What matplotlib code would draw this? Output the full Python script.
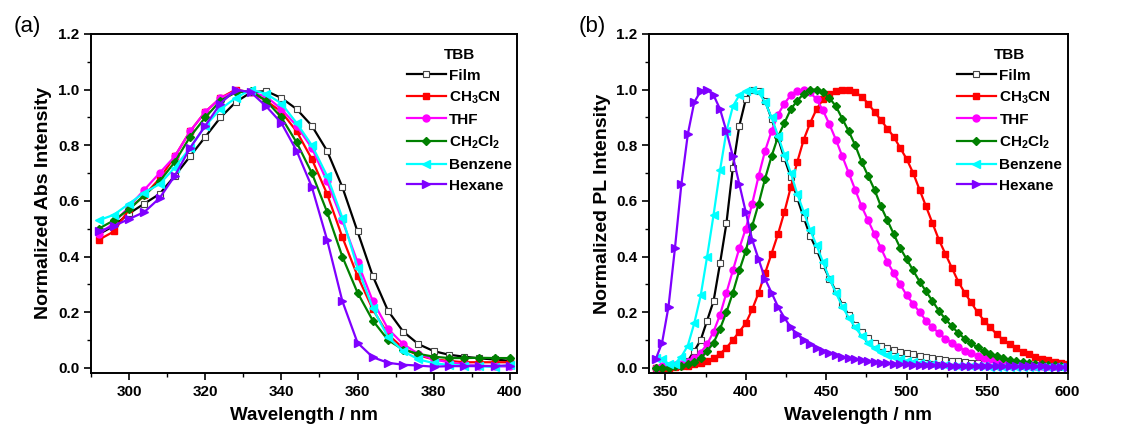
import numpy as np
import matplotlib
matplotlib.use('Agg')
import matplotlib.pyplot as plt
from matplotlib.ticker import MultipleLocator

plt.rcParams['font.family'] = ['Liberation Sans', 'DejaVu Sans']
plt.rcParams['font.weight'] = 'bold'
plt.rcParams['mathtext.fontset'] = 'custom'
plt.rcParams['mathtext.bf'] = 'Liberation Sans:bold'
plt.rcParams['mathtext.rm'] = 'Liberation Sans:bold'
plt.rcParams['mathtext.default'] = 'bf'

names = ['Film', 'CH$_3$CN', 'THF', 'CH$_2$Cl$_2$', 'Benzene', 'Hexane']

# ---- (a) absorption, 292..400 nm every 4 nm
wl_abs = np.arange(292, 401, 4)
abs_film = [0.48, 0.51, 0.555, 0.59, 0.625, 0.69, 0.76, 0.83, 0.90, 0.955, 0.99, 0.995, 0.97, 0.93,
            0.87, 0.78, 0.65, 0.49, 0.33, 0.205, 0.13, 0.085, 0.06, 0.047, 0.04, 0.034, 0.03, 0.025]
abs_ch3cn = [0.46, 0.49, 0.57, 0.62, 0.68, 0.76, 0.85, 0.92, 0.97, 1.0, 0.99, 0.96, 0.92, 0.85,
             0.75, 0.625, 0.47, 0.33, 0.21, 0.12, 0.07, 0.045, 0.03, 0.025, 0.02, 0.02, 0.02, 0.02]
abs_thf = [0.48, 0.52, 0.58, 0.64, 0.70, 0.76, 0.85, 0.92, 0.97, 0.995, 0.99, 0.975, 0.93, 0.87,
           0.79, 0.67, 0.53, 0.38, 0.24, 0.14, 0.085, 0.05, 0.03, 0.02, 0.012, 0.008, 0.005, 0.005]
abs_ch2cl2 = [0.50, 0.53, 0.57, 0.62, 0.67, 0.74, 0.83, 0.90, 0.96, 0.99, 0.995, 0.96, 0.90, 0.81,
              0.70, 0.56, 0.40, 0.27, 0.17, 0.10, 0.065, 0.05, 0.04, 0.035, 0.035, 0.036, 0.035, 0.035]
abs_benzene = [0.53, 0.55, 0.59, 0.63, 0.66, 0.72, 0.79, 0.87, 0.93, 0.97, 1.0, 0.985, 0.95, 0.88,
               0.80, 0.69, 0.54, 0.36, 0.215, 0.11, 0.06, 0.03, 0.017, 0.01, 0.008, 0.006, 0.003, 0.01]
abs_hexane = [0.49, 0.51, 0.535, 0.56, 0.61, 0.69, 0.79, 0.87, 0.95, 1.0, 0.99, 0.94, 0.88, 0.78,
              0.65, 0.46, 0.24, 0.09, 0.038, 0.018, 0.011, 0.008, 0.004, 0.006, 0.006, 0.006, 0.007, 0.008]

# ---- (b) photoluminescence, 344..600 nm every 4 nm
wl_pl = np.arange(344, 601, 4)
pl_film = [0.0, 0.0, 0.0, 0.005, 0.01, 0.025, 0.06, 0.10, 0.17, 0.24, 0.375, 0.52, 0.72, 0.87,
           0.965, 1.0, 0.995, 0.96, 0.895, 0.827, 0.753, 0.685, 0.61, 0.54, 0.475, 0.425, 0.37,
           0.32, 0.275, 0.225, 0.19, 0.155, 0.128, 0.107, 0.09, 0.078, 0.07, 0.063, 0.058, 0.053,
           0.048, 0.043, 0.039, 0.035, 0.032, 0.029, 0.026, 0.023, 0.021, 0.019, 0.017, 0.015,
           0.014, 0.012, 0.011, 0.01, 0.009, 0.008, 0.008, 0.007, 0.006, 0.006, 0.005, 0.005, 0.005]
pl_ch3cn = [0.0, 0.0, 0.0, 0.003, 0.005, 0.008, 0.012, 0.018, 0.025, 0.035, 0.05, 0.072, 0.10,
            0.13, 0.16, 0.21, 0.27, 0.34, 0.41, 0.48, 0.56, 0.65, 0.74, 0.82, 0.88, 0.93, 0.965,
            0.985, 0.995, 1.0, 1.0, 0.99, 0.975, 0.95, 0.92, 0.89, 0.86, 0.83, 0.79, 0.75, 0.70,
            0.64, 0.58, 0.52, 0.46, 0.41, 0.36, 0.31, 0.27, 0.235, 0.20, 0.17, 0.145, 0.12, 0.10,
            0.085, 0.07, 0.058, 0.048, 0.04, 0.033, 0.027, 0.022, 0.018, 0.015]
pl_thf = [0.0, 0.005, 0.008, 0.01, 0.012, 0.02, 0.035, 0.055, 0.085, 0.13, 0.19, 0.27, 0.35,
          0.43, 0.50, 0.59, 0.69, 0.78, 0.85, 0.91, 0.95, 0.98, 0.995, 1.0, 0.99, 0.965, 0.925,
          0.875, 0.82, 0.76, 0.70, 0.64, 0.58, 0.53, 0.48, 0.43, 0.38, 0.34, 0.30, 0.26, 0.23,
          0.20, 0.17, 0.145, 0.125, 0.105, 0.09, 0.075, 0.062, 0.052, 0.043, 0.036, 0.03, 0.025,
          0.021, 0.017, 0.014, 0.012, 0.01, 0.008, 0.007, 0.006, 0.005, 0.005, 0.004]
pl_ch2cl2 = [0.0, 0.0, 0.0, 0.005, 0.008, 0.012, 0.02, 0.035, 0.06, 0.09, 0.14, 0.20, 0.27,
             0.35, 0.42, 0.51, 0.59, 0.68, 0.76, 0.83, 0.88, 0.93, 0.96, 0.985, 1.0, 1.0, 0.99,
             0.97, 0.94, 0.895, 0.85, 0.80, 0.74, 0.69, 0.64, 0.58, 0.53, 0.48, 0.43, 0.39, 0.35,
             0.31, 0.275, 0.24, 0.205, 0.175, 0.15, 0.125, 0.105, 0.088, 0.073, 0.06, 0.05, 0.042,
             0.035, 0.029, 0.024, 0.02, 0.017, 0.014, 0.012, 0.01, 0.009, 0.008, 0.007]
pl_benzene = [0.035, 0.03, 0.015, 0.015, 0.04, 0.08, 0.16, 0.26, 0.40, 0.55, 0.71, 0.85, 0.94,
              0.98, 0.995, 1.0, 0.99, 0.955, 0.90, 0.835, 0.765, 0.70, 0.625, 0.56, 0.495, 0.44,
              0.38, 0.32, 0.27, 0.22, 0.18, 0.145, 0.115, 0.09, 0.072, 0.058, 0.047, 0.038, 0.031,
              0.025, 0.02, 0.017, 0.014, 0.012, 0.01, 0.009, 0.008, 0.007, 0.006, 0.006, 0.005,
              0.005, 0.004, 0.004, 0.004, 0.003, 0.003, 0.003, 0.003, 0.003, 0.003, 0.003, 0.003,
              0.003, 0.003]
pl_hexane = [0.03, 0.09, 0.22, 0.43, 0.66, 0.84, 0.955, 0.995, 1.0, 0.98, 0.93, 0.85, 0.76, 0.66,
             0.56, 0.46, 0.39, 0.32, 0.27, 0.22, 0.18, 0.145, 0.12, 0.10, 0.085, 0.072, 0.062,
             0.053, 0.046, 0.04, 0.035, 0.031, 0.027, 0.024, 0.021, 0.019, 0.017, 0.015, 0.013,
             0.012, 0.011, 0.011, 0.01, 0.01, 0.009, 0.009, 0.008, 0.008, 0.008, 0.007, 0.007,
             0.007, 0.006, 0.006, 0.006, 0.006, 0.005, 0.005, 0.005, 0.005, 0.005, 0.004, 0.004,
             0.004, 0.004]

colors = ['black', '#ff0000', '#ff00ff', '#008000', '#00ffff', '#7f00ff']
markers = ['s', 's', 'o', 'D', '<', '>']
msizes = [4.8, 4.8, 5.0, 4.5, 5.3, 5.3]

abs_data = [abs_film, abs_ch3cn, abs_thf, abs_ch2cl2, abs_benzene, abs_hexane]
pl_data = [pl_film, pl_ch3cn, pl_thf, pl_ch2cl2, pl_benzene, pl_hexane]

fig = plt.figure(figsize=(11.31, 4.30), dpi=100)
ax1 = fig.add_axes([0.0805, 0.133, 0.377, 0.788])
ax2 = fig.add_axes([0.574, 0.133, 0.370, 0.788])


def draw(ax, wl, data):
    for i, y in enumerate(data):
        if i == 0:
            ax.plot(wl, y, color=colors[i], lw=1.6, marker=markers[i], ms=msizes[i],
                    mfc='white', mec='#444444', mew=0.8, label=names[i])
        else:
            ax.plot(wl, y, color=colors[i], lw=1.6, marker=markers[i], ms=msizes[i],
                    mfc=colors[i], mec=colors[i], label=names[i])
    ax.set_ylim(-0.018, 1.2)
    ax.yaxis.set_major_locator(MultipleLocator(0.2))
    ax.yaxis.set_minor_locator(MultipleLocator(0.1))
    ax.tick_params(which='both', direction='out', top=False, right=False, labelsize=11)
    ax.tick_params(which='major', length=5, width=1.2)
    ax.tick_params(which='minor', length=3, width=1.0)
    for s in ax.spines.values():
        s.set_linewidth(1.4)
    ax.set_xlabel('Wavelength / nm', fontsize=13.5, fontweight='bold', labelpad=6)
    ax.legend(title='TBB', loc='upper right', bbox_to_anchor=(1.02, 1.0), frameon=False,
              fontsize=11, title_fontproperties={'weight': 'bold', 'size': 11},
              handlelength=2.6, handletextpad=0.2, labelspacing=0.45, borderaxespad=0.5)
    for t in ax.get_yticklabels() + ax.get_xticklabels():
        t.set_fontweight('bold')


draw(ax1, wl_abs, abs_data)
ax1.set_xlim(290, 402)
ax1.xaxis.set_major_locator(MultipleLocator(20))
ax1.xaxis.set_minor_locator(MultipleLocator(10))
ax1.set_ylabel('Normalized Abs Intensity', fontsize=14, fontweight='bold')

draw(ax2, wl_pl, pl_data)
ax2.set_xlim(340, 600)
ax2.xaxis.set_major_locator(MultipleLocator(50))
ax2.xaxis.set_minor_locator(MultipleLocator(25))
ax2.set_ylabel('Normalized PL Intensity', fontsize=14, fontweight='bold')

fig.text(0.012, 0.925, '(a)', fontsize=16, fontweight='normal')
fig.text(0.512, 0.925, '(b)', fontsize=16, fontweight='normal')

fig.savefig('out.png', dpi=100)
